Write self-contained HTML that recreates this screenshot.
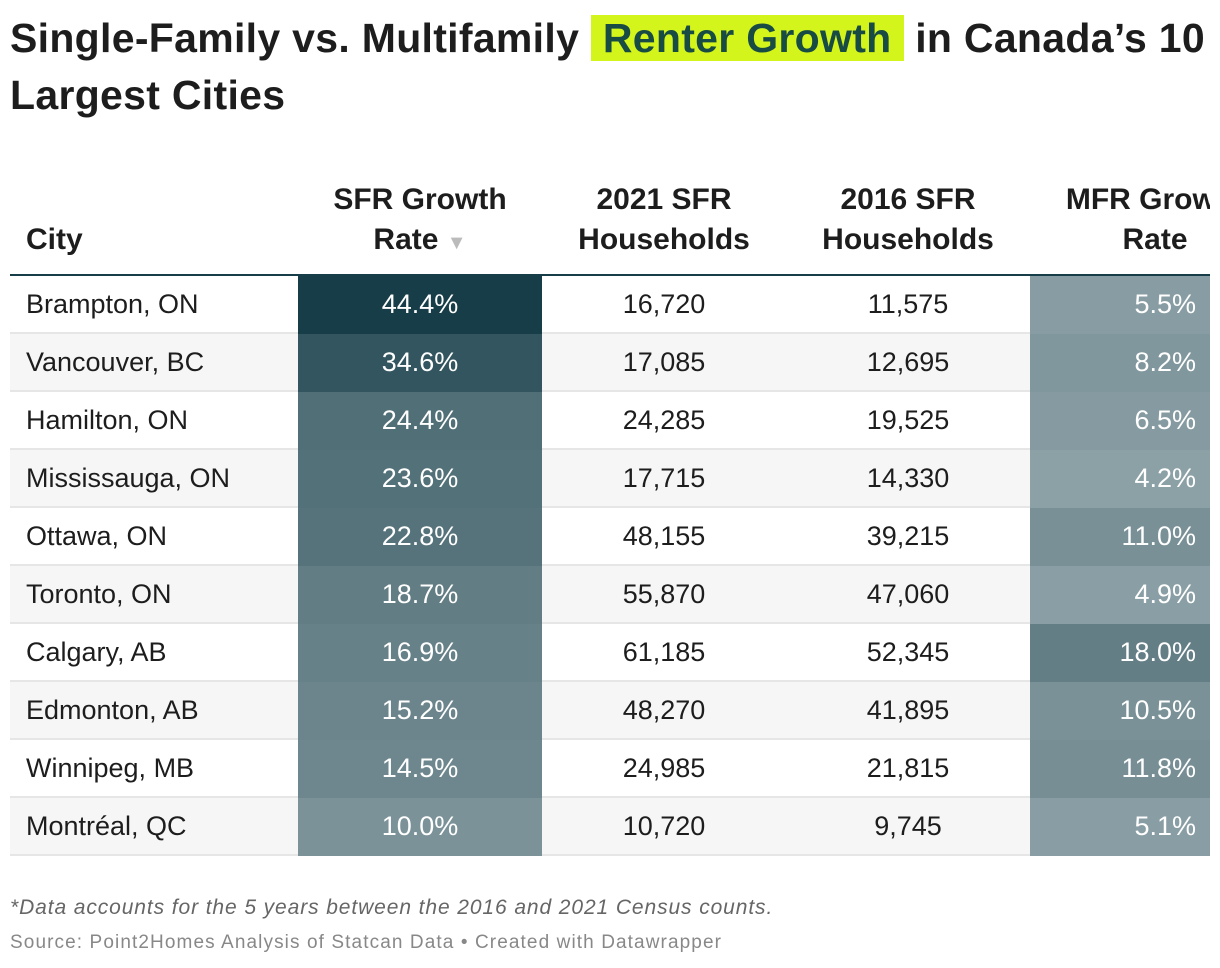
<!DOCTYPE html>
<html><head><meta charset="utf-8"><style>
body{margin:0;width:1220px;height:968px;overflow:hidden;background:#fff;font-family:"Liberation Sans",sans-serif;color:#1d1d1d;position:relative}
h1{position:absolute;left:10px;top:10px;margin:0;font-size:41px;line-height:57px;font-weight:bold;width:1220px;white-space:nowrap;letter-spacing:0.3px}
.hl{background:#d4f51c;color:#184b44;padding:0 12px}
#tbl{position:absolute;left:10px;top:150px;width:1200px;overflow:hidden;height:710px}
.hd{position:absolute;font-weight:bold;font-size:30px;line-height:40px;text-align:center}
.row{position:absolute;left:0;width:1200px;height:56px;border-bottom:2px solid #e6e6e6}
.c{position:absolute;top:0;height:56px;line-height:56px;font-size:27px}
.foot{position:absolute;left:10px;font-size:20px;color:#666}
</style></head><body>
<h1>Single-Family vs. Multifamily <span class="hl">Renter Growth</span> in Canada’s 10<br>Largest Cities</h1>
<div id="tbl">
<div class="hd" style="left:16px;top:70px;text-align:left">City</div>
<div class="hd" style="left:288px;width:244px;top:30px">SFR Growth<br>Rate <span style="color:#bbb;font-size:20px">▼</span></div>
<div class="hd" style="left:532px;width:244px;top:30px">2021 SFR<br>Households</div>
<div class="hd" style="left:776px;width:244px;top:30px">2016 SFR<br>Households</div>
<div class="hd" style="left:1020px;width:250px;top:30px">MFR Growth<br>Rate</div>
<div style="position:absolute;left:0;top:124px;width:1200px;height:2px;background:#173d48"></div>
</div>
<div class="foot" style="top:896px;font-style:italic;font-size:21px;letter-spacing:0.9px">*Data accounts for the 5 years between the 2016 and 2021 Census counts.</div>
<div class="foot" style="top:932px;font-size:19px;letter-spacing:1.1px;color:#888">Source: Point2Homes Analysis of Statcan Data • Created with Datawrapper</div>
<script>
const cities=["Brampton, ON","Vancouver, BC","Hamilton, ON","Mississauga, ON","Ottawa, ON","Toronto, ON","Calgary, AB","Edmonton, AB","Winnipeg, MB","Montréal, QC"];
const sfrGrowth=[44.4,34.6,24.4,23.6,22.8,18.7,16.9,15.2,14.5,10.0];
const sfr2021=[16720,17085,24285,17715,48155,55870,61185,48270,24985,10720];
const sfr2016=[11575,12695,19525,14330,39215,47060,52345,41895,21815,9745];
const mfrGrowth=[5.5,8.2,6.5,4.2,11.0,4.9,18.0,10.5,11.8,5.1];
function col(v){const t=Math.min(1,v/44.4);const a=[152,171,176],b=[23,61,72];return 'rgb('+a.map((x,i)=>Math.round(x+(b[i]-x)*t)).join(',')+')';}
const tbl=document.getElementById('tbl');
cities.forEach((c,i)=>{
 const r=document.createElement('div');r.className='row';r.style.top=(126+i*58)+'px';
 if(i%2)r.style.background='#f6f6f6';
 
 
 r.innerHTML='<div class="c" style="left:16px">'+c+'</div>'+
 '<div class="c" style="left:288px;width:244px;height:58px;text-align:center;color:#fff;background:'+col(sfrGrowth[i])+'">'+sfrGrowth[i].toFixed(1)+'%</div>'+
 '<div class="c" style="left:532px;width:244px;text-align:center">'+sfr2021[i].toLocaleString('en-US')+'</div>'+
 '<div class="c" style="left:776px;width:244px;text-align:center">'+sfr2016[i].toLocaleString('en-US')+'</div>'+
 '<div class="c" style="left:1020px;width:180px;height:58px;text-align:right;padding-right:14px;box-sizing:border-box;color:#fff;background:'+col(mfrGrowth[i])+'">'+mfrGrowth[i].toFixed(1)+'%</div>';
 tbl.appendChild(r);
});
</script>
</body></html>
